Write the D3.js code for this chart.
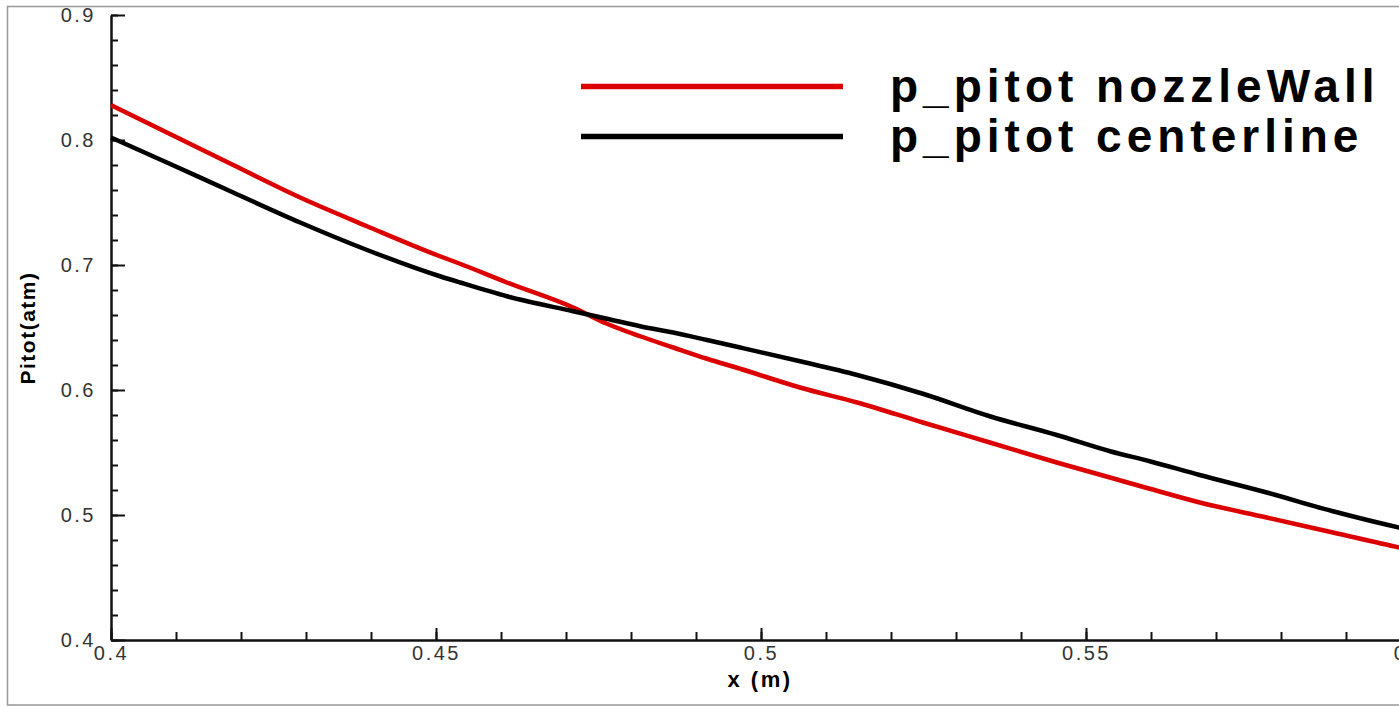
<!DOCTYPE html>
<html>
<head>
<meta charset="utf-8">
<script src="https://cdn.jsdelivr.net/npm/d3@7"></script>
<style>
  body { margin: 0; background: #fff; }
  svg { display: block; font-family: "Liberation Sans", Arial, sans-serif; }
  .tick text { fill: #333; font-size: 20px; letter-spacing: 2.5px; }
  .axis path, .axis line { stroke: #111; stroke-width: 2; }
</style>
</head>
<body>
<svg width="1399" height="707"></svg>
<script>
// Sample positions along x (m), shared by both curves
var xPos = [0.4, 0.4086, 0.4188, 0.4291, 0.4394, 0.4506, 0.4537, 0.4609, 0.4711,
            0.4763, 0.4814, 0.4865, 0.4917, 0.4968, 0.5060, 0.5148, 0.5249, 0.5352,
            0.5455, 0.5537, 0.5598, 0.5675, 0.5778, 0.5880, 0.5982, 0.6];

// Pitot pressure (atm)
var nozzleWall = [0.828, 0.806, 0.780, 0.754, 0.731, 0.707, 0.701, 0.686, 0.666,
                  0.653, 0.643, 0.634, 0.625, 0.617, 0.602, 0.590, 0.574, 0.558,
                  0.542, 0.530, 0.521, 0.510, 0.498, 0.486, 0.474, 0.472];
var centerline = [0.802, 0.782, 0.758, 0.734, 0.712, 0.691, 0.686, 0.675, 0.663,
                  0.657, 0.651, 0.646, 0.640, 0.634, 0.623, 0.612, 0.597, 0.579,
                  0.564, 0.551, 0.543, 0.532, 0.518, 0.503, 0.490, 0.488];

var seriesNames = ["p_pitot nozzleWall", "p_pitot centerline"];
var seriesColors = ["#dd0000", "#000000"];

var xMajor = [0.4, 0.45, 0.5, 0.55, 0.6];
var yMajor = [0.4, 0.5, 0.6, 0.7, 0.8, 0.9];
var xMinor = d3.range(0, 21).map(function(i) { return +(0.4 + i * 0.01).toFixed(2); });
var yMinor = d3.range(0, 26).map(function(i) { return +(0.4 + i * 0.02).toFixed(2); });

var svg = d3.select("svg");

// outer frame
svg.append("rect")
    .attr("x", 7.5).attr("y", 6.5)
    .attr("width", 1420).attr("height", 698.5)
    .attr("fill", "none")
    .attr("stroke", "#999")
    .attr("stroke-width", 1.5);

var x = d3.scaleLinear().domain([0.4, 0.6]).range([111, 1411]);
var y = d3.scaleLinear().domain([0.4, 0.9]).range([640, 15]);

// minor ticks
svg.append("g").attr("class", "axis")
    .attr("transform", "translate(0,640)")
    .call(d3.axisBottom(x).tickValues(xMinor).tickSizeInner(-8).tickSizeOuter(0).tickFormat(""));
svg.append("g").attr("class", "axis")
    .attr("transform", "translate(111,0)")
    .call(d3.axisLeft(y).tickValues(yMinor).tickSizeInner(-7).tickSizeOuter(0).tickFormat(""));

// major ticks + labels
svg.append("g").attr("class", "axis")
    .attr("transform", "translate(0,640)")
    .call(d3.axisBottom(x).tickValues(xMajor).tickSizeInner(-12).tickSizeOuter(0).tickPadding(6).tickFormat(d3.format("")));
svg.append("g").attr("class", "axis")
    .attr("transform", "translate(111,0)")
    .call(d3.axisLeft(y).tickValues(yMajor).tickSizeInner(-14).tickSizeOuter(0).tickPadding(15).tickFormat(d3.format("")));

// axis titles
svg.append("text")
    .attr("x", 760).attr("y", 687)
    .attr("text-anchor", "middle")
    .style("font-weight", "bold").style("font-size", "22px").style("letter-spacing", "2.5px")
    .text("x (m)");

svg.append("text")
    .attr("transform", "translate(35,328) rotate(-90)")
    .attr("text-anchor", "middle")
    .style("font-weight", "bold").style("font-size", "21px").style("letter-spacing", "1.5px")
    .text("Pitot(atm)");

// curves
var series = [nozzleWall, centerline];
var line = d3.line()
    .x(function(d, i) { return x(xPos[i]); })
    .y(function(d) { return y(d); })
    .curve(d3.curveMonotoneX);

svg.selectAll(".curve")
    .data(series)
    .enter()
    .append("path")
    .attr("class", "curve")
    .attr("d", line)
    .attr("fill", "none")
    .attr("stroke", function(d, i) { return seriesColors[i]; })
    .attr("stroke-width", 4.5);

// legend
var legend = svg.selectAll(".legend")
    .data(seriesNames)
    .enter()
    .append("g")
    .attr("class", "legend")
    .attr("transform", function(d, i) { return "translate(0," + (86.5 + i * 50) + ")"; });

legend.append("line")
    .attr("x1", 581).attr("x2", 843)
    .attr("stroke", function(d, i) { return seriesColors[i]; })
    .attr("stroke-width", 5.5);

legend.append("text")
    .attr("x", 890).attr("y", 15)
    .style("font-weight", "bold").style("font-size", "46px").style("letter-spacing", "5px")
    .text(function(d) { return d; });
</script>
</body>
</html>
